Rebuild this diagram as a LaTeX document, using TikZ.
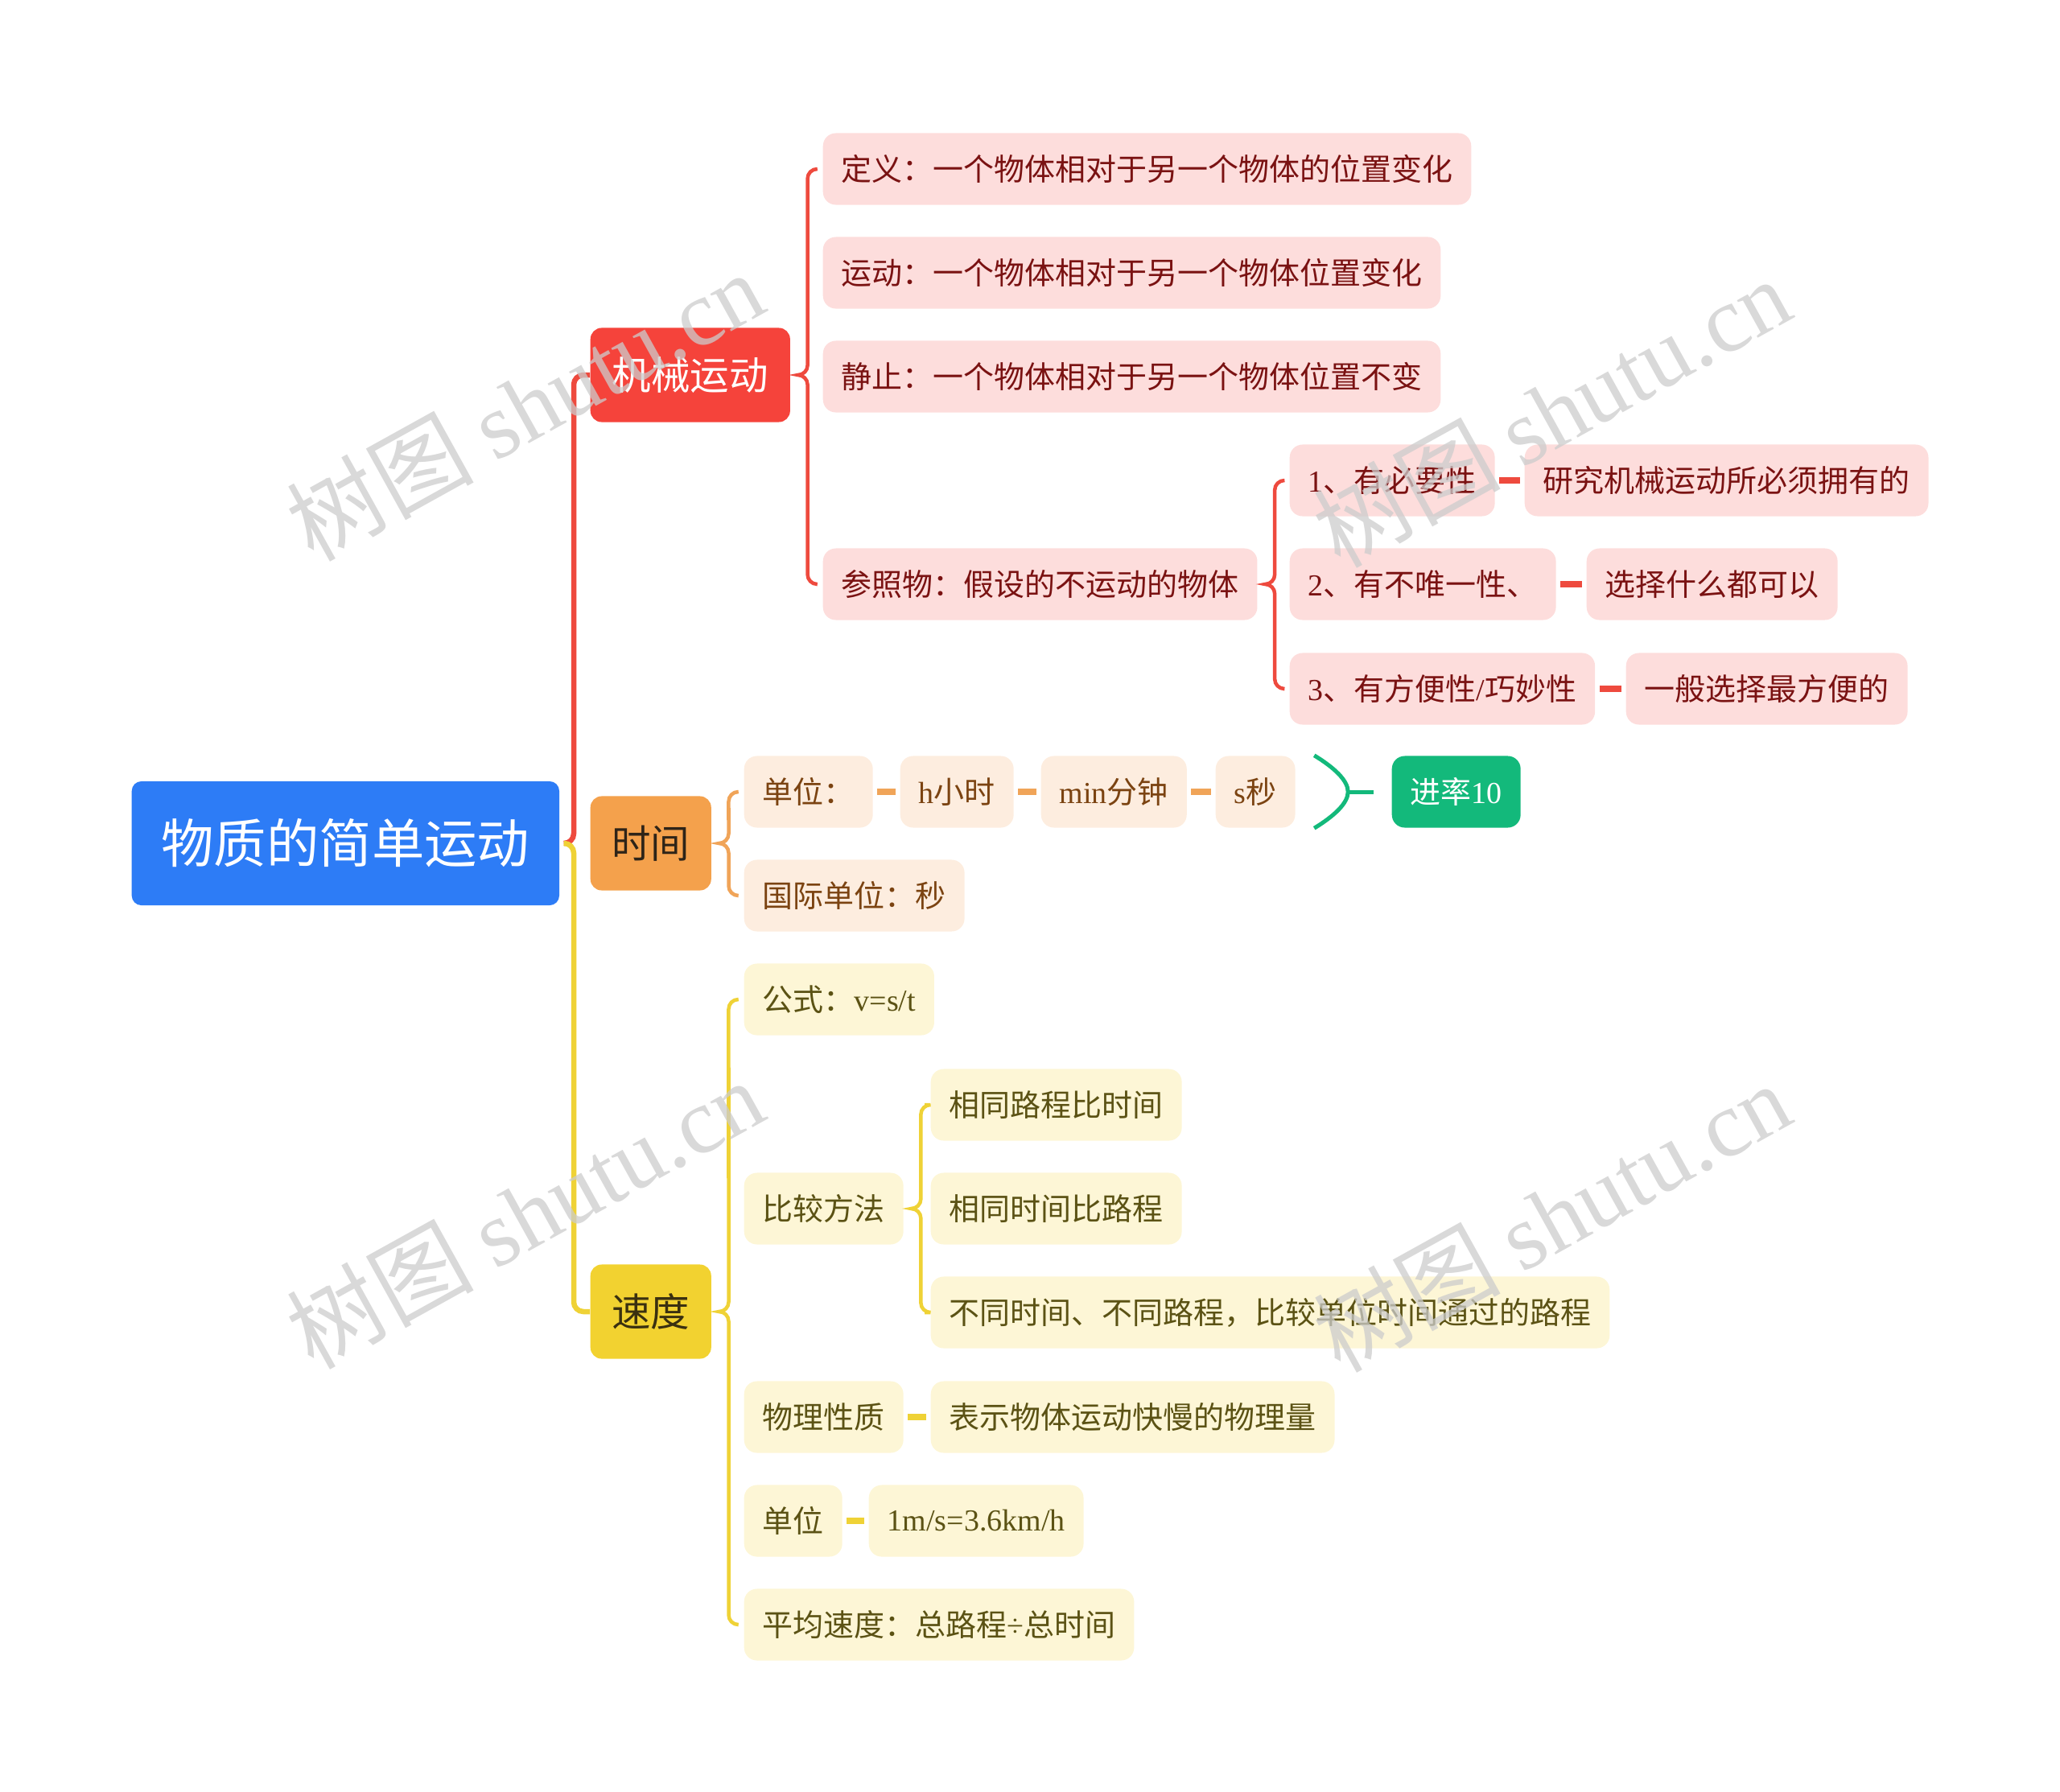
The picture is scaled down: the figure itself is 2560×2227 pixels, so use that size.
\documentclass[tikz,border=0pt]{standalone}
\usepackage{fontspec}
\setmainfont{Noto Sans CJK SC}
\newfontfamily\lat{Liberation Serif}
\usetikzlibrary{calc}

\definecolor{rootblue}{HTML}{2D7CF6}
\definecolor{mechred}{HTML}{F5433B}
\definecolor{redline}{HTML}{EE4A3E}
\definecolor{redfill}{HTML}{FDDDDC}
\definecolor{redtext}{HTML}{7A1212}
\definecolor{timeorange}{HTML}{F4A14C}
\definecolor{timetext}{HTML}{2E2418}
\definecolor{orangeline}{HTML}{F0A458}
\definecolor{orangefill}{HTML}{FDEDDF}
\definecolor{orangetext}{HTML}{7B4311}
\definecolor{speedyellow}{HTML}{F2D230}
\definecolor{speedtext}{HTML}{3A3010}
\definecolor{yellowline}{HTML}{EFD236}
\definecolor{yellowfill}{HTML}{FDF6D6}
\definecolor{yellowtext}{HTML}{5B5214}
\definecolor{rategreen}{HTML}{13B97B}

\tikzset{
  box/.style={rounded corners=0.16cm, inner xsep=0.23cm, inner ysep=0pt,
    minimum height=0.89cm, anchor=west, font=\fontsize{10.8}{13}\selectfont},
  redbox/.style={box, fill=redfill, text=redtext},
  orangebox/.style={box, fill=orangefill, text=orangetext},
  yellowbox/.style={box, fill=yellowfill, text=yellowtext},
  topic/.style={rounded corners=0.14cm, minimum height=1.17cm, anchor=west,
    inner sep=0pt, font=\fontsize{13.8}{16}\selectfont},
  branch/.style={line width=0.065cm, rounded corners=0.12cm},
  brace/.style={line width=0.045cm},
  link/.style={line width=0.075cm},
  watermark/.style={text=gray!40, opacity=0.75, font=\fontsize{33}{33}\selectfont, rotate=29},
}

% brace from a parent to its first and last child
\newcommand{\childbrace}[4]{%
  \draw[brace,#1] ($(#3.west)+(-7,0)$) -- ($(#2.east |- #3.west)+(33,0)$)
    arc[start angle=90, end angle=180, radius=0.12cm]
    -- ($(#2.east)+(21,-12)$)
    arc[start angle=0, end angle=-90, radius=0.12cm]
    arc[start angle=90, end angle=0, radius=0.12cm]
    -- ($(#2.east |- #4.west)+(21,-12)$)
    arc[start angle=180, end angle=270, radius=0.12cm]
    -- ($(#4.west)+(-7,0)$);}

\begin{document}
\begin{tikzpicture}[x=0.01cm, y=-0.01cm]
  \useasboundingbox (0,0) rectangle (2560,2227);

  % ==== ROOT AND TOPICS ====
  \node[topic, fill=rootblue, text=white, minimum width=5.31cm, minimum height=1.54cm,
    rounded corners=0.12cm, font=\fontsize{18.6}{22}\selectfont] (root) at (163,1048) {物质的简单运动};
  \node[topic, fill=mechred, text=white, minimum width=2.48cm] (mech) at (733,466) {机械运动};
  \node[topic, fill=timeorange, text=timetext, minimum width=1.5cm] (time) at (733,1048) {时间};
  \node[topic, fill=speedyellow, text=speedtext, minimum width=1.5cm] (speed) at (733,1630) {速度};

  \draw[branch, redline] ($(root.east)+(6,0)$) -| ($(mech.west)+(-20,0)$) -- (mech.west);
  \draw[branch, yellowline] ($(root.east)+(6,0)$) -| ($(speed.west)+(-20,0)$) -- (speed.west);

  % ==== MECHANICAL MOTION ====
  \node[redbox] (def) at (1022,210) {定义：一个物体相对于另一个物体的位置变化};
  \node[redbox] (move) at (1022,339) {运动：一个物体相对于另一个物体位置变化};
  \node[redbox] (rest) at (1022,468) {静止：一个物体相对于另一个物体位置不变};
  \node[redbox] (ref) at (1022,726) {参照物：假设的不运动的物体};
  \node[redbox] (need) at (1602,597) {{\lat 1}、有必要性};
  \node[redbox] (needx) at (1894,597) {研究机械运动所必须拥有的};
  \node[redbox] (uniq) at (1602,726) {{\lat 2}、有不唯一性、};
  \node[redbox] (uniqx) at (1971,726) {选择什么都可以};
  \node[redbox] (easy) at (1602,856) {{\lat 3}、有方便性{\lat /}巧妙性};
  \node[redbox] (easyx) at (2020,856) {一般选择最方便的};

  \childbrace{redline}{mech}{def}{ref}
  \childbrace{redline}{ref}{need}{easy}
  \draw[link, redline] ($(need.east)+(5,0)$) -- ($(needx.west)+(-5,0)$);
  \draw[link, redline] ($(uniq.east)+(5,0)$) -- ($(uniqx.west)+(-5,0)$);
  \draw[link, redline] ($(easy.east)+(5,0)$) -- ($(easyx.west)+(-5,0)$);

  % ==== TIME ====
  \node[orangebox] (unit) at (924,984) {单位：};
  \node[orangebox] (hour) at (1118,984) {{\lat h}小时};
  \node[orangebox] (minute) at (1293,984) {{\lat min}分钟};
  \node[orangebox] (sec) at (1510,984) {{\lat s}秒};
  \node[box, fill=rategreen, text=white] (rate) at (1729,984) {进率{\lat 10}};
  \node[orangebox] (si) at (924,1113) {国际单位：秒};

  \childbrace{orangeline}{time}{unit}{si}
  \draw[link, orangeline] ($(unit.east)+(5,0)$) -- ($(hour.west)+(-5,0)$);
  \draw[link, orangeline] ($(hour.east)+(5,0)$) -- ($(minute.west)+(-5,0)$);
  \draw[link, orangeline] ($(minute.east)+(5,0)$) -- ($(sec.west)+(-5,0)$);
  \draw[line width=0.05cm, rategreen] ($(sec.north east)+(23,0)$)
    .. controls ($(sec.east)+(48,-30)$) and ($(sec.east)+(65,-14)$) .. ($(sec.east)+(65,0)$)
    .. controls ($(sec.east)+(65,14)$) and ($(sec.east)+(48,30)$) .. ($(sec.south east)+(23,0)$);
  \draw[line width=0.05cm, rategreen] ($(sec.east)+(65,0)$) -- ($(rate.west)+(-22,0)$);

  % ==== SPEED ====
  \node[yellowbox] (formula) at (924,1242) {公式：{\lat v=s/t}};
  \node[yellowbox] (compare) at (924,1502) {比较方法};
  \node[yellowbox] (samedist) at (1156,1373) {相同路程比时间};
  \node[yellowbox] (sametime) at (1156,1502) {相同时间比路程};
  \node[yellowbox] (diff) at (1156,1631) {不同时间、不同路程，比较单位时间通过的路程};
  \node[yellowbox] (nature) at (924,1761) {物理性质};
  \node[yellowbox] (naturex) at (1156,1761) {表示物体运动快慢的物理量};
  \node[yellowbox] (sunit) at (924,1890) {单位};
  \node[yellowbox] (sunitx) at (1079,1890) {\lat 1m/s=3.6km/h};
  \node[yellowbox] (avg) at (924,2019) {平均速度：总路程{\lat ÷}总时间};

  \childbrace{yellowline}{speed}{formula}{avg}
  \childbrace{yellowline}{compare}{samedist}{diff}
  \draw[link, yellowline] ($(nature.east)+(5,0)$) -- ($(naturex.west)+(-5,0)$);
  \draw[link, yellowline] ($(sunit.east)+(5,0)$) -- ($(sunitx.west)+(-5,0)$);

  % ==== WATERMARK ====
  \node[watermark] (wm1) at (652,504) {树图 {\lat shutu.cn}};
  \node[watermark] (wm2) at (1928,512) {树图 {\lat shutu.cn}};
  \node[watermark] (wm3) at (652,1508) {树图 {\lat shutu.cn}};
  \node[watermark] (wm4) at (1928,1512) {树图 {\lat shutu.cn}};
\end{tikzpicture}
\end{document}
